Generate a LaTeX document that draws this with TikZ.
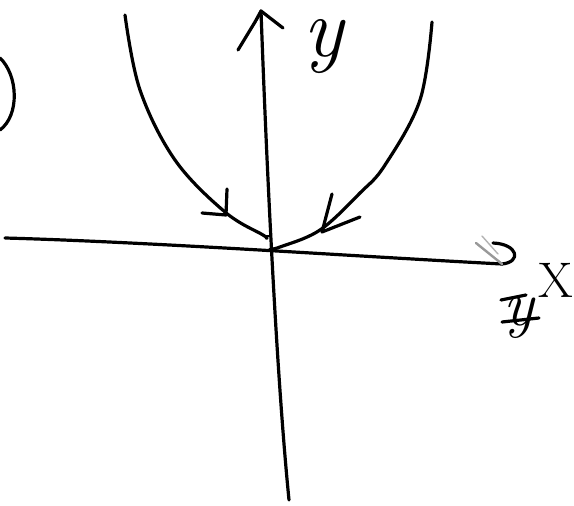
\documentclass[tikz,border=0pt]{standalone}
\usepackage{fontspec}
\begin{document}
\begin{tikzpicture}[x=1pt,y=-1pt,
  pen/.style={line width=3.2pt,line cap=round,line join=round,black},
  lab/.style={inner sep=0pt,font=\fontsize{84}{84}\selectfont\itshape}]
\useasboundingbox (0,0) rectangle (574,506);
% axes
\coordinate (ytop) at (261,11);
\coordinate (ybot) at (289,500);
\coordinate (xl) at (5,238);
\coordinate (xr) at (502,264);
\draw[pen] (ybot) .. controls (276,370) and (266,150) .. (ytop);
\draw[pen] (xl) .. controls (150,242) and (350,256) .. (xr);
% y arrowhead
\draw[pen] (238,50) -- (255,22) -- (ytop) -- (283,28);
\draw[pen,line width=1.8pt] (238,50) -- (261,13);
% x arrowhead
\draw[pen] (xr) .. controls (522,262) and (518,244) .. (493,243);
\draw[pen,line width=2.4pt,gray!80] (476,243) -- (xr);
\draw[pen,line width=1.4pt,gray!60] (482,236) -- (498,254);
% parabola
\draw[pen] plot[smooth,tension=0.6] coordinates {(125,15) (140,90) (175,160) (225,212) (263,235) (266,238)};
\draw[pen] plot[smooth,tension=0.6] coordinates {(432,22) (420,100) (385,165) (360,193) (320,230) (280,247) (270,249)};
% arrows on parabola
\draw[pen] (227,189) -- (226,215) -- (202,213);
\draw[pen] (332,194) -- (322,232) -- (360,217);
% tick near origin
\draw[pen,line width=2.4pt] (264,236) -- (270,236);
% labels
\node[lab] (ylab) at (323,47) {y};
\node[inner sep=0pt,font=\fontsize{50}{50}\selectfont] (xlab) at (556,280) {X};
\node[lab,font=\fontsize{64}{64}\selectfont\itshape] (zlab) at (519,318) {y};
\draw[pen] (501,300) -- (526,295);
\draw[pen] (502,322) -- (539,318);
% partial circled label at left edge
\draw[pen] (0,58) .. controls (18,75) and (20,115) .. (0,130);
\end{tikzpicture}
\end{document}
